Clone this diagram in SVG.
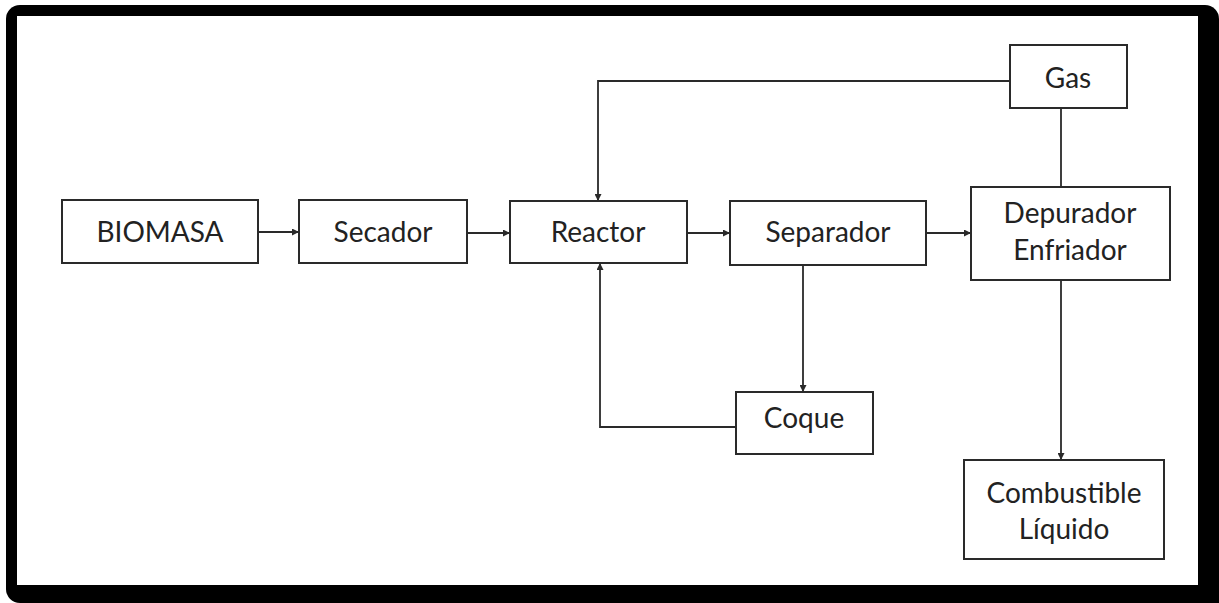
<svg xmlns="http://www.w3.org/2000/svg" width="1219" height="603" viewBox="0 0 1219 603">
<defs>
<style>
.box{fill:#fff;stroke:#2a2a2a;stroke-width:2}
.lbl{font-family:Lato,"Open Sans","DejaVu Sans",sans-serif;font-size:28px;fill:#222;text-anchor:middle}
.ln{fill:none;stroke:#2a2a2a;stroke-width:1.8}
</style>
<marker id="ah" viewBox="0 0 10 10" refX="10" refY="5" markerWidth="9" markerHeight="7" markerUnits="userSpaceOnUse" orient="auto">
<path d="M0,0 L10,5 L0,10 Z" fill="#2a2a2a"/>
</marker>
</defs>
<rect x="6" y="5" width="1213" height="598" rx="14" fill="#000"/>
<rect x="1180" y="560" width="39" height="43" fill="#000"/>
<rect x="17" y="16" width="1181" height="569" fill="#fff"/>
<g id="connectors">
<line class="ln" x1="258" y1="232" x2="299" y2="232" marker-end="url(#ah)"/>
<line class="ln" x1="467" y1="233" x2="510" y2="233" marker-end="url(#ah)"/>
<line class="ln" x1="687" y1="233" x2="730" y2="233" marker-end="url(#ah)"/>
<line class="ln" x1="926" y1="233" x2="971" y2="233" marker-end="url(#ah)"/>
<line class="ln" x1="1061" y1="187" x2="1061" y2="108"/>
<polyline class="ln" points="1010,81 598,81 598,201" marker-end="url(#ah)"/>
<line class="ln" x1="803" y1="265" x2="803" y2="392" marker-end="url(#ah)"/>
<polyline class="ln" points="736,427 600,427 600,263" marker-end="url(#ah)"/>
<line class="ln" x1="1061" y1="280" x2="1061" y2="460" marker-end="url(#ah)"/>
</g>
<g id="biomasa"><rect class="box" x="62" y="200" width="196" height="63"/><text class="lbl" x="160" y="242">BIOMASA</text></g>
<g id="secador"><rect class="box" x="299" y="200" width="168" height="63"/><text class="lbl" x="383" y="242">Secador</text></g>
<g id="reactor"><rect class="box" x="510" y="201" width="177" height="62"/><text class="lbl" x="598" y="242">Reactor</text></g>
<g id="separador"><rect class="box" x="730" y="201" width="196" height="64"/><text class="lbl" x="828" y="242">Separador</text></g>
<g id="depurador"><rect class="box" x="971" y="187" width="199" height="93"/><text class="lbl" x="1070" y="223">Depurador</text><text class="lbl" x="1070" y="260">Enfriador</text></g>
<g id="gas"><rect class="box" x="1010" y="45" width="117" height="63"/><text class="lbl" x="1068" y="88">Gas</text></g>
<g id="coque"><rect class="box" x="736" y="392" width="137" height="62"/><text class="lbl" x="804" y="428">Coque</text></g>
<g id="combustible"><rect class="box" x="964" y="460" width="200" height="99"/><text class="lbl" x="1064" y="503">Combustible</text><text class="lbl" x="1064" y="539">Líquido</text></g>
</svg>
